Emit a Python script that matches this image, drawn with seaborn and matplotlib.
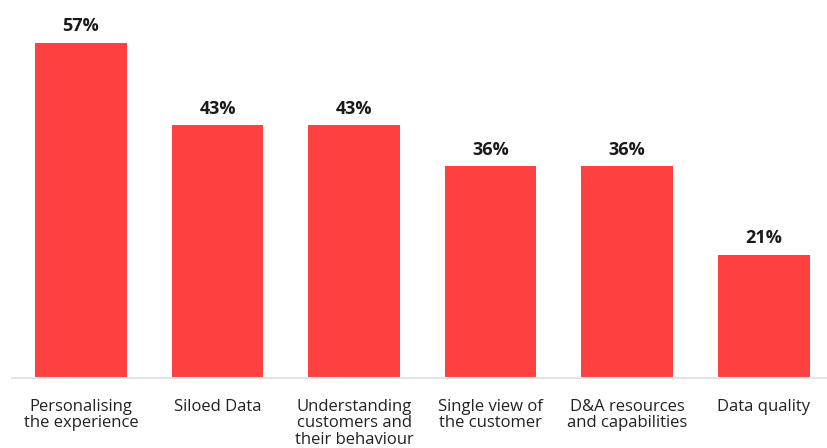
import matplotlib
matplotlib.use("Agg")
import matplotlib.pyplot as plt
import seaborn as sns
import pandas as pd

categories = ["Personalising\nthe experience", "Siloed Data", "Understanding\ncustomers and\ntheir behaviour",
              "Single view of\nthe customer", "D&A resources\nand capabilities", "Data quality"]
values = [57, 43, 43, 36, 36, 21]
value_labels = ["57%", "43%", "43%", "36%", "36%", "21%"]

sns.set_style("white")
plt.rcParams['font.family'] = ['Open Sans', 'DejaVu Sans']

df = pd.DataFrame({"cat": categories, "val": values})

fig = plt.figure(figsize=(8.28, 4.48), dpi=100)
ax = fig.add_axes([12/828, 70/448, 1 - 12/828, 378/448])
sns.barplot(data=df, x="cat", y="val", color="#FF4040", saturation=1, width=0.67, ax=ax)
for p in ax.patches:
    p.set_edgecolor("none")

for i, (v, lab) in enumerate(zip(values, value_labels)):
    ax.text(i, v + 1.3, lab, ha="center", va="bottom", fontsize=13, fontweight="bold", color="#1a1a1a")

ax.set_xlim(-0.505, 5.47)
ax.set_ylim(0, 64.3)
ax.set_xlabel("")
ax.set_ylabel("")
ax.set_yticks([])
for s in ["top", "right", "left"]:
    ax.spines[s].set_visible(False)
ax.spines["bottom"].set_color("#e3e3e3")
ax.spines["bottom"].set_linewidth(1.5)
ax.tick_params(axis="x", length=0, pad=15, labelsize=12, labelcolor="#222222")
for t in ax.get_xticklabels():
    t.set_linespacing(1.05)
    t.set_verticalalignment("top")

fig.savefig("out.png", dpi=100)
